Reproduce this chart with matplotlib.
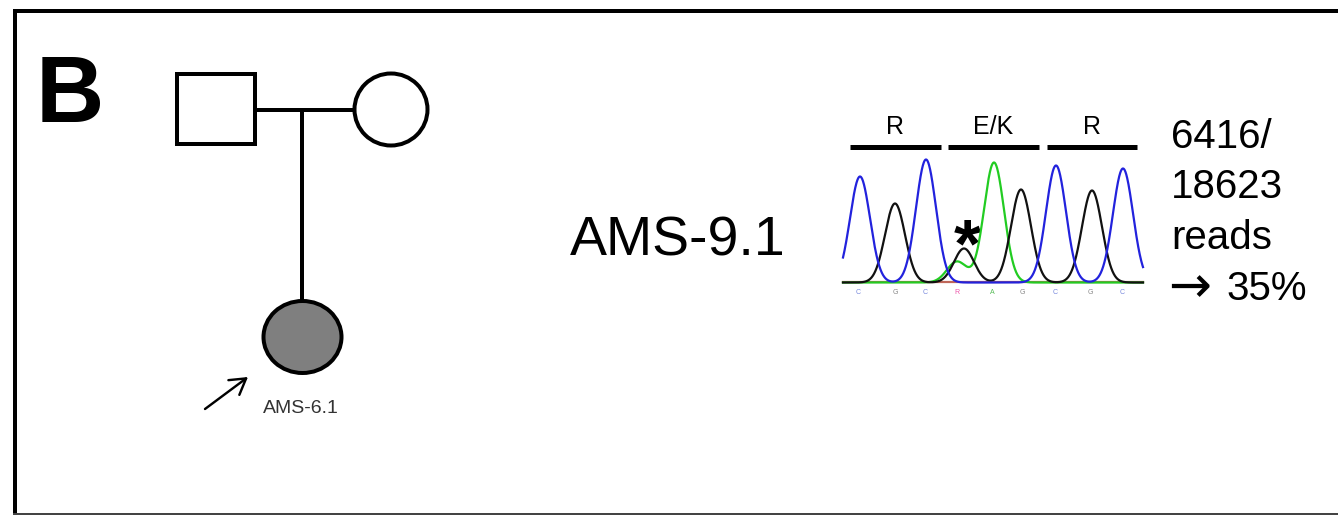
import numpy as np
import matplotlib
matplotlib.use("Agg")
import matplotlib.pyplot as plt
from matplotlib.patches import Rectangle, Ellipse
from matplotlib.lines import Line2D

plt.rcParams['font.family'] = ['Liberation Sans', 'DejaVu Sans']

# ---------------- data ----------------
panel_label = "B"
proband_label = "AMS-6.1"
sample_label = "AMS-9.1"
codon_labels = ["R", "E/K", "R"]
base_calls = ["C", "G", "C", "R", "A", "G", "C", "G", "C"]
base_call_pos = [15, 52, 82, 114, 149, 179, 212, 247, 279]      # scan position
read_lines = ["6416/", "18623", "reads"]
read_arrow = "\u2192"
read_pct = "35%"

# chromatogram peaks (scan position, signal height) per dye channel
peaks_C_pos = [17, 83, 213, 280]
peaks_C_h = [106, 123, 117, 114]
peaks_G_pos = [52, 121, 178, 249]
peaks_G_h = [79, 34, 93, 92]
peaks_A_pos = [114, 151]
peaks_A_h = [21, 120]
peak_sigma = 10.0

# ---------------- figure ----------------
W, H = 1338, 515
fig = plt.figure(figsize=(W / 100, H / 100), dpi=100)
ax = fig.add_axes([0, 0, 1, 1])
ax.set_xlim(0, W)
ax.set_ylim(H, 0)
ax.axis('off')

px = 0.72  # points per pixel

# frame
ax.add_line(Line2D([14.5, 14.5], [8.5, H], color='black', lw=4 * px, solid_capstyle='butt'))
ax.add_line(Line2D([12.5, W], [10.5, 10.5], color='black', lw=4 * px, solid_capstyle='butt'))
ax.add_line(Line2D([12.5, W], [514, 514], color='#444444', lw=2 * px, solid_capstyle='butt'))

# panel label
ax.text(36, 122, panel_label, fontsize=68, fontweight='bold', ha='left', va='baseline')

# pedigree
lw_ped = 4 * px
ax.add_patch(Rectangle((177, 74), 78, 70, fill=False, ec='black', lw=lw_ped))
ax.add_patch(Ellipse((391, 109.5), 73, 72, fill=False, ec='black', lw=lw_ped))
ax.add_line(Line2D([255, 355], [109.5, 109.5], color='black', lw=lw_ped, solid_capstyle='butt'))
ax.add_line(Line2D([302, 302], [109.5, 301], color='black', lw=lw_ped, solid_capstyle='butt'))
ax.add_patch(Ellipse((302.5, 337), 78, 72, fc='#7f7f7f', ec='black', lw=lw_ped))
ax.annotate('', xy=(248, 377), xytext=(205, 409),
            arrowprops=dict(arrowstyle='->,head_length=0.5,head_width=0.3', color='black',
                            lw=2.4 * px, mutation_scale=22, shrinkA=0, shrinkB=0))
ax.text(301, 413, proband_label, fontsize=14, color='#333333', ha='center', va='baseline')

# sample label
ax.text(678, 255, sample_label, fontsize=40, ha='center', va='baseline')

# codon bars and labels
bar_x = [(850, 941), (948, 1039), (1047, 1137)]
for (x0, x1), lab in zip(bar_x, codon_labels):
    ax.add_line(Line2D([x0, x1], [147, 147], color='black', lw=5 * px, solid_capstyle='butt'))
    ax.text((x0 + x1) / 2, 134, lab, fontsize=18, ha='center', va='baseline')

# read counts
for i, t in enumerate(read_lines):
    ax.text(1171, 148 + 50.5 * i, t, fontsize=29, ha='left', va='baseline')
ax.text(1168, 302, read_arrow, fontsize=37, family=['DejaVu Sans'], ha='left', va='baseline')
ax.text(1226, 299.5, read_pct, fontsize=29, ha='left', va='baseline')

# chromatogram inset
x0px, x1px, ytop, ybase = 843, 1143, 150, 283
cax = fig.add_axes([x0px / W, 1 - ybase / H, (x1px - x0px) / W, (ybase - ytop) / H])
cax.set_xlim(0, x1px - x0px)
cax.set_ylim(0, ybase - ytop)
cax.axis('off')

xs = np.linspace(0, x1px - x0px, 1200)

def trace(pos, hts):
    y = np.zeros_like(xs)
    for p, h in zip(pos, hts):
        y += h * np.exp(-0.5 * ((xs - p) / peak_sigma) ** 2)
    return y

cax.plot(xs, np.full_like(xs, 1.0), color='#b04030', lw=1.6, alpha=0.8, clip_on=False)
cax.plot(xs, trace(peaks_A_pos, peaks_A_h) + 0.5, color='#22cc22', lw=1.6, clip_on=False)
cax.plot(xs, trace(peaks_G_pos, peaks_G_h) + 0.5, color='#111111', lw=1.6, clip_on=False)
cax.plot(xs, trace(peaks_C_pos, peaks_C_h) + 0.5, color='#2222dd', lw=1.6, clip_on=False)

call_colors = {"C": "#7788dd", "G": "#888888", "A": "#55bb55", "R": "#ee55aa", "T": "#dd4444"}
for b, p in zip(base_calls, base_call_pos):
    cax.text(p, -10, b, fontsize=5, color=call_colors[b], ha='center', va='center', clip_on=False)

# mutation asterisk
ax.text(967, 266, "*", fontsize=50, fontweight='bold', ha='center', va='baseline')

fig.savefig("out.png", dpi=100)
